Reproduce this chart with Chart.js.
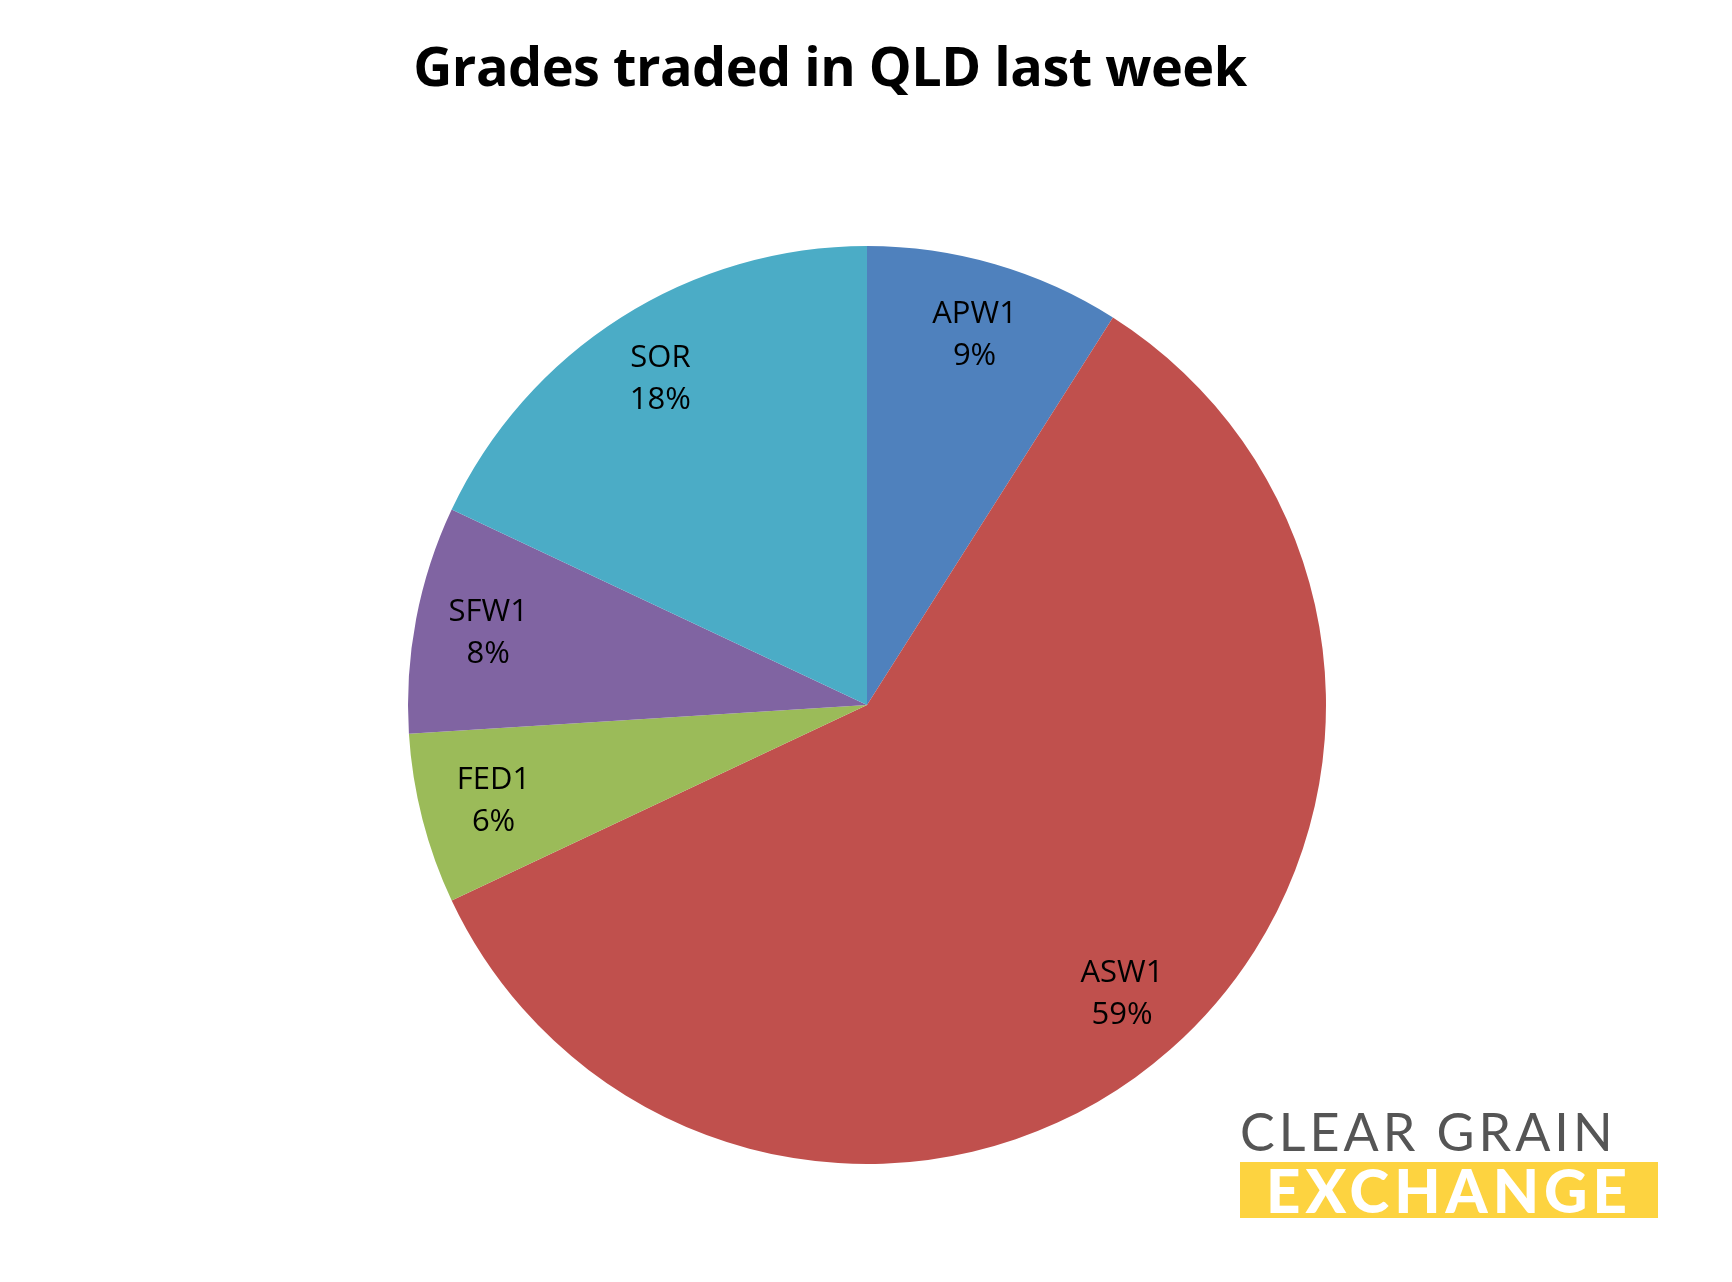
<!DOCTYPE html>
<html>
<head>
<meta charset="utf-8">
<script src="https://cdn.jsdelivr.net/npm/chart.js@4"></script>
<style>
  body { margin: 0; width: 1732px; height: 1282px; background: #fff; position: relative; overflow: hidden; font-family: "Open Sans", sans-serif; }
  #title { position: absolute; top: 28px; left: 0; width: 1660px; text-align: center; font-size: 54px; font-weight: bold; color: #000; letter-spacing: -0.5px; }
  #wrap { position: absolute; left: 403px; top: 241px; width: 928px; height: 928px; }
  #logo { position: absolute; left: 1240px; top: 1106px; width: 418px; }
  #logo .top { font-family: "Lato", sans-serif; font-size: 52px; color: #555; letter-spacing: 4px; line-height: 50px; white-space: nowrap; }
  #logo .bot { margin-top: 6px; background: #fdd340; color: #fff; font-family: "Lato", sans-serif; font-weight: 900; font-size: 60px; line-height: 56px; height: 56px; text-align: center; letter-spacing: 5px; overflow: hidden; }
</style>
</head>
<body>
<div id="title">Grades traded in QLD last week</div>
<div id="wrap"><canvas id="pie"></canvas></div>
<div id="logo"><div class="top">CLEAR GRAIN</div><div class="bot">EXCHANGE</div></div>
<script>
const grades = ['APW1', 'ASW1', 'FED1', 'SFW1', 'SOR'];
const shares = [9, 59, 6, 8, 18];
const colors = ['#4F81BD', '#C0504D', '#9BBB59', '#8064A2', '#4BACC6'];

// labels inside the slices
const sliceLabels = {
    id: 'sliceLabels',
    afterDatasetsDraw(chart) {
        const ctx = chart.ctx;
        const meta = chart.getDatasetMeta(0);
        ctx.save();
        ctx.fillStyle = '#000';
        ctx.font = '31px "Open Sans", sans-serif';
        ctx.textAlign = 'center';
        ctx.textBaseline = 'middle';
        meta.data.forEach((arc, i) => {
            const mid = (arc.startAngle + arc.endAngle) / 2;
            const r = arc.outerRadius * 0.84;
            const x = arc.x + Math.cos(mid) * r;
            const y = arc.y + Math.sin(mid) * r;
            ctx.fillText(grades[i], x, y - 21);
            ctx.fillText(shares[i] + '%', x, y + 21);
        });
        ctx.restore();
    }
};

new Chart(document.getElementById('pie').getContext('2d'), {
    type: 'pie',
    data: {
        labels: grades,
        datasets: [{ data: shares, backgroundColor: colors, borderWidth: 0 }]
    },
    options: {
        responsive: true,
        maintainAspectRatio: true,
        animation: false,
        layout: { padding: 5 },
        plugins: { legend: { display: false }, tooltip: { enabled: false } }
    },
    plugins: [sliceLabels]
});
</script>
</body>
</html>
